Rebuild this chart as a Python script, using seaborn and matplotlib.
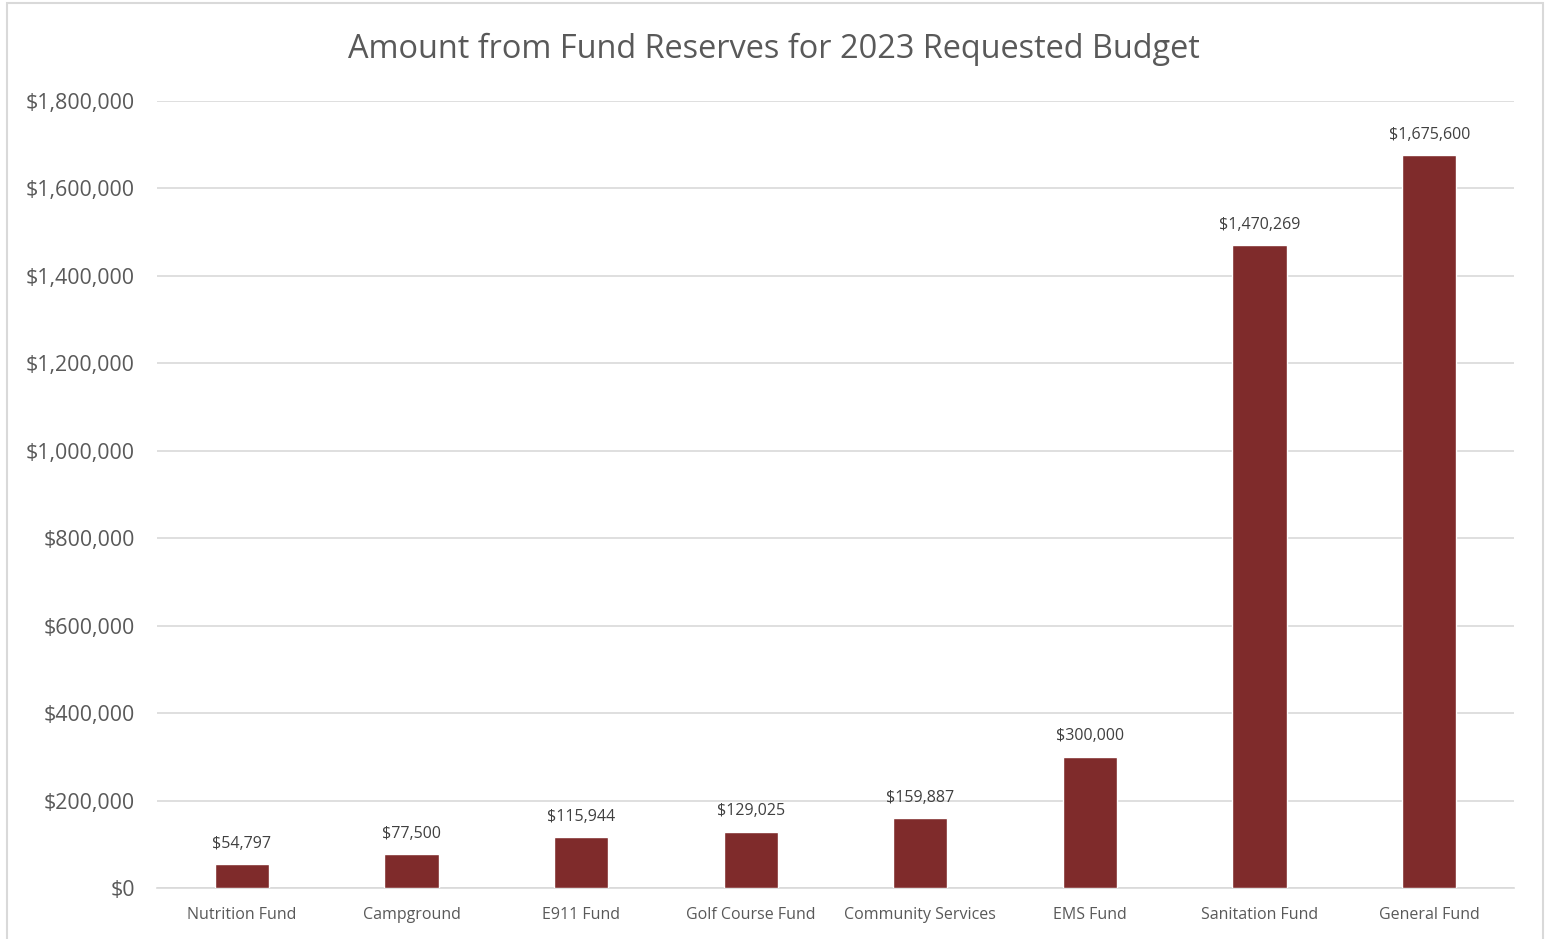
import matplotlib
matplotlib.use("Agg")
import matplotlib.pyplot as plt
import matplotlib.patches as mpatches
import seaborn as sns
import pandas as pd
from matplotlib.ticker import FuncFormatter

categories = ["Nutrition Fund", "Campground", "E911 Fund", "Golf Course Fund",
              "Community Services", "EMS Fund", "Sanitation Fund", "General Fund"]
values = [54797, 77500, 115944, 129025, 159887, 300000, 1470269, 1675600]
y_ticks = [0, 200000, 400000, 600000, 800000, 1000000, 1200000, 1400000, 1600000, 1800000]
title = "Amount from Fund Reserves for 2023 Requested Budget"

df = pd.DataFrame({"Fund": categories, "Amount": values})

sns.set_theme(style="white")
plt.rcParams['font.family'] = ['Open Sans', 'DejaVu Sans']

W, H = 1548, 939
fig = plt.figure(figsize=(W / 100, H / 100), dpi=100)
ax = fig.add_axes([157 / W, 1 - 888 / H, (1514 - 157) / W, (888 - 101) / H])

bar_color = "#7F2B2B"
text_color = "#595959"

sns.barplot(data=df, x="Fund", y="Amount", color=bar_color, width=0.32,
            saturation=1, ax=ax, zorder=3)

ax.set_ylim(0, 1800000)
ax.set_yticks(y_ticks)
ax.yaxis.set_major_formatter(FuncFormatter(lambda v, p: f"${v:,.0f}"))
ax.grid(axis="y", color="#D9D9D9", linewidth=1.2, zorder=0)
ax.set_axisbelow(True)
for s in ["top", "right", "left"]:
    ax.spines[s].set_visible(False)
ax.spines["bottom"].set_color("#D9D9D9")
ax.spines["bottom"].set_linewidth(1.2)
ax.set_xlabel("")
ax.set_ylabel("")
ax.tick_params(axis="y", labelsize=15.4, colors=text_color, length=0, pad=16)
ax.tick_params(axis="x", labelsize=11.5, colors=text_color, length=0, pad=14)

labels = [f"${v:,.0f}" for v in values]
ax.bar_label(ax.containers[0], labels=labels, padding=9, fontsize=11.5, color="#404040")

fig.text(0.5, 1 - 49 / H, title, ha="center", va="center", fontsize=23.4, color=text_color)

border = mpatches.Rectangle((7 / W, -0.05), (1543 - 7) / W, 1 - 3 / H + 0.05,
                            transform=fig.transFigure, fill=False,
                            edgecolor="#D9D9D9", linewidth=1.5)
fig.patches.append(border)

fig.savefig("out.png", dpi=100, facecolor="white")
